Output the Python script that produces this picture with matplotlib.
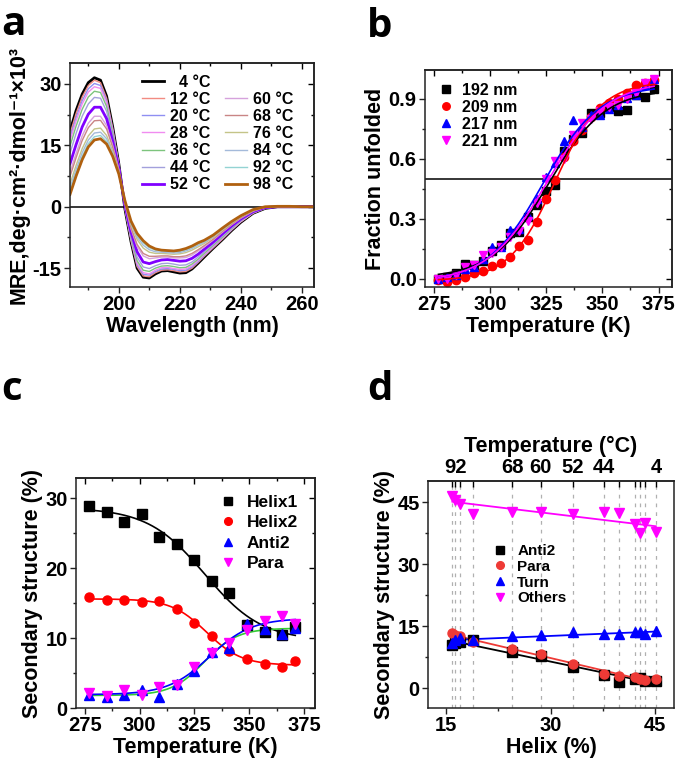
import numpy as np
import matplotlib
matplotlib.use('Agg')
import matplotlib.pyplot as plt
from matplotlib.lines import Line2D
from matplotlib.ticker import MultipleLocator, FixedLocator, NullFormatter

plt.rcParams['font.family'] = ['Liberation Sans', 'DejaVu Sans']
plt.rcParams['font.weight'] = 'bold'
plt.rcParams['axes.labelweight'] = 'bold'
plt.rcParams['axes.linewidth'] = 1.1
plt.rcParams['axes.edgecolor'] = '#222222'
plt.rcParams['axes.unicode_minus'] = False

# ---------------- panel a : CD spectra ----------------
wavelength = [184, 186, 188, 190, 192, 194, 196, 198, 200, 202, 204, 206, 208, 210, 212, 214, 216,
              218, 220, 222, 224, 226, 228, 231, 234, 237, 240, 244, 248, 252, 256, 260, 264]
cd_temps = [4, 12, 20, 28, 36, 44, 52, 60, 68, 76, 84, 92, 98]
mre_4 = [18.5, 23.5, 27.5, 30.3, 31.5, 30.9, 27.0, 19.5, 10.5, -0.5, -8.5, -15.0, -17.2, -17.4, -16.4, -15.7, -15.6,
         -15.9, -16.2, -16.1, -15.2, -13.8, -12.3, -10.1, -8.0, -5.8, -3.8, -1.6, -0.4, 0.0, 0.0, 0.0, 0.0]
mre_12 = [17.8, 22.8, 26.8, 29.6, 30.9, 30.3, 26.5, 19.2, 10.4, -0.4, -8.3, -14.6, -16.9, -17.1, -16.1, -15.5, -15.4,
          -15.6, -15.9, -15.8, -15.0, -13.6, -12.1, -10.0, -7.9, -5.7, -3.7, -1.6, -0.4, 0.0, 0.0, 0.0, 0.0]
mre_20 = [16.9, 21.8, 25.9, 28.8, 30.1, 29.6, 25.9, 18.8, 10.3, -0.3, -8.0, -14.2, -16.5, -16.7, -15.8, -15.2, -15.1,
          -15.3, -15.6, -15.5, -14.7, -13.4, -11.9, -9.8, -7.7, -5.6, -3.6, -1.5, -0.4, 0.0, 0.0, 0.0, 0.0]
mre_28 = [16.1, 21.0, 25.1, 28.0, 29.3, 28.9, 25.4, 18.5, 10.2, -0.2, -7.8, -13.8, -16.1, -16.4, -15.5, -14.9, -14.8,
          -15.1, -15.3, -15.2, -14.4, -13.1, -11.7, -9.7, -7.6, -5.5, -3.6, -1.5, -0.3, 0.0, 0.0, 0.0, 0.0]
mre_36 = [14.8, 19.7, 23.8, 26.8, 28.2, 27.9, 24.5, 17.9, 10.0, 0.0, -7.4, -13.2, -15.5, -15.8, -15.0, -14.5, -14.4,
          -14.6, -14.9, -14.8, -14.0, -12.8, -11.4, -9.4, -7.4, -5.3, -3.4, -1.4, -0.3, 0.0, 0.0, 0.0, 0.0]
mre_44 = [13.1, 17.9, 22.1, 25.1, 26.7, 26.5, 23.3, 17.2, 9.8, 0.2, -7.0, -12.3, -14.7, -15.1, -14.4, -13.9, -13.8,
          -14.0, -14.3, -14.2, -13.5, -12.3, -11.0, -9.1, -7.1, -5.1, -3.3, -1.3, -0.3, 0.0, 0.0, 0.0, 0.0]
mre_52 = [10.5, 15.2, 19.5, 22.6, 24.3, 24.3, 21.5, 16.0, 9.5, 0.5, -6.2, -11.0, -13.5, -13.9, -13.4, -13.0, -12.9,
          -13.1, -13.3, -13.2, -12.6, -11.6, -10.4, -8.6, -6.6, -4.7, -3.0, -1.2, -0.2, 0.0, 0.0, 0.0, 0.0]
mre_60 = [8.4, 13.0, 17.3, 20.4, 22.1, 22.1, 19.8, 15.0, 9.1, 0.8, -5.4, -9.7, -12.0, -12.7, -12.5, -12.3, -12.3,
          -12.5, -12.5, -12.4, -11.8, -10.8, -9.8, -8.1, -6.2, -4.4, -2.8, -1.1, -0.1, 0.0, 0.0, 0.0, 0.0]
mre_68 = [7.4, 12.0, 16.2, 19.3, 21.0, 21.1, 19.0, 14.5, 8.9, 0.9, -5.1, -9.2, -11.4, -12.1, -12.1, -12.0, -12.0,
          -12.2, -12.2, -12.0, -11.4, -10.5, -9.5, -7.9, -6.0, -4.3, -2.7, -1.0, -0.1, 0.0, 0.0, 0.0, 0.0]
mre_76 = [5.6, 10.1, 14.2, 17.3, 19.0, 19.2, 17.4, 13.6, 8.5, 1.2, -4.4, -8.0, -10.1, -11.1, -11.4, -11.4, -11.5,
          -11.6, -11.5, -11.2, -10.6, -9.8, -9.0, -7.5, -5.7, -4.0, -2.5, -0.9, -0.1, 0.1, 0.1, 0.0, 0.0]
mre_84 = [4.6, 9.1, 13.2, 16.3, 18.0, 18.2, 16.6, 13.1, 8.3, 1.3, -4.1, -7.4, -9.4, -10.5, -11.0, -11.1, -11.2,
          -11.3, -11.2, -10.8, -10.2, -9.4, -8.7, -7.3, -5.5, -3.8, -2.4, -0.8, 0.0, 0.1, 0.1, 0.0, 0.0]
mre_92 = [3.8, 8.3, 12.3, 15.4, 17.1, 17.4, 15.9, 12.7, 8.2, 1.4, -3.8, -7.0, -8.8, -10.0, -10.6, -10.8, -10.9,
          -11.0, -10.9, -10.5, -9.9, -9.1, -8.4, -7.1, -5.3, -3.7, -2.3, -0.8, 0.0, 0.1, 0.1, 0.0, 0.0]
mre_98 = [3.0, 7.5, 11.5, 14.6, 16.3, 16.6, 15.3, 12.3, 8.0, 1.5, -3.5, -6.5, -8.3, -9.6, -10.3, -10.6, -10.7,
          -10.8, -10.6, -10.2, -9.6, -8.8, -8.2, -6.9, -5.2, -3.6, -2.2, -0.7, 0.0, 0.1, 0.1, 0.0, 0.0]
mre_all = [mre_4, mre_12, mre_20, mre_28, mre_36, mre_44, mre_52, mre_60, mre_68, mre_76, mre_84, mre_92, mre_98]

# ---------------- panel b : fraction unfolded ----------------
temp_b = [277, 281, 285, 289, 293, 297, 301, 305, 309, 313, 317, 321, 325,
          329, 333, 337, 341, 345, 349, 353, 357, 361, 365, 369, 373]
frac_192 = [0.0, 0.01, 0.03, 0.075, 0.07, 0.09, 0.14, 0.17, 0.23, 0.235, 0.31, 0.37, 0.44,
            0.47, 0.64, 0.70, 0.73, 0.83, 0.83, 0.86, 0.84, 0.845, 0.92, 0.91, 0.95]
frac_209 = [-0.005, -0.013, -0.005, 0.012, 0.032, 0.042, 0.065, 0.082, 0.112, 0.167, 0.195, 0.287, 0.40,
            0.495, 0.61, 0.69, 0.745, 0.81, 0.857, 0.878, 0.90, 0.93, 0.97, 0.98, 0.995]
frac_217 = [0.0, 0.01, 0.02, 0.05, 0.06, 0.10, 0.16, 0.16, 0.245, 0.25, 0.32, 0.40, 0.51,
            0.58, 0.69, 0.795, 0.76, 0.82, 0.82, 0.85, 0.87, 0.905, 0.92, 0.97, 1.0]
frac_221 = [0.0, 0.0, 0.02, 0.06, 0.07, 0.12, 0.13, 0.16, 0.21, 0.24, 0.29, 0.38, 0.50,
            0.59, 0.60, 0.72, 0.78, 0.80, 0.84, 0.86, 0.87, 0.90, 0.93, 0.98, 1.0]
b_labels = ['192 nm', '209 nm', '217 nm', '221 nm']

# ---------------- panel c : secondary structure vs T ----------------
temp_c = [277, 285, 293, 301, 309, 317, 325, 333, 341, 349, 357, 365, 371]
helix1 = [28.9, 28.1, 26.6, 27.8, 24.4, 23.4, 21.1, 18.1, 16.4, 11.9, 10.9, 10.5, 11.6]
helix2 = [15.9, 15.4, 15.4, 15.1, 15.3, 14.2, 12.2, 10.3, 8.1, 7.0, 6.3, 5.8, 6.7]
anti2_c = [1.9, 1.6, 1.9, 2.6, 1.6, 3.5, 5.3, 8.0, 8.6, 12.0, 11.3, 10.6, 11.5]
para_c = [2.1, 1.7, 2.6, 1.9, 3.0, 3.3, 5.8, 7.9, 9.3, 11.1, 12.4, 13.2, 12.0]

# ---------------- panel d : secondary structure vs helix ----------------
temp_d = [98, 92, 84, 76, 68, 60, 52, 44, 36, 28, 20, 12, 4]
temp_d_shown = [92, 68, 60, 52, 44, 4]
helix_d = [15.9, 16.3, 17.0, 18.9, 24.5, 28.6, 33.2, 37.7, 39.8, 42.1, 42.8, 43.6, 45.1]
anti2_d = [10.4, 10.8, 11.1, 11.6, 8.7, 7.7, 5.1, 3.1, 1.5, 2.2, 2.4, 1.7, 1.7]
para_d = [13.3, 12.9, 12.6, 11.1, 9.4, 8.2, 5.8, 3.4, 2.9, 2.6, 2.2, 1.9, 2.2]
turn_d = [11.0, 11.6, 12.1, 11.6, 12.6, 12.8, 13.5, 13.1, 13.1, 13.5, 13.5, 13.1, 13.8]
others_d = [46.5, 45.6, 44.5, 42.1, 42.6, 42.6, 42.1, 42.6, 42.3, 39.7, 37.5, 39.9, 37.7]


def boltzmann_fit(x, y, xs):
    # least squares Boltzmann fit (grid over x0/dx, linear in A1/A2)
    x = np.asarray(x, float)
    y = np.asarray(y, float)
    x0g, dxg = np.meshgrid(np.arange(300, 350.01, 0.25), np.arange(2, 25.01, 0.25))
    x0g = x0g.ravel()[:, None]
    dxg = dxg.ravel()[:, None]
    s = 1.0 / (1.0 + np.exp((x[None, :] - x0g) / dxg))
    sm = s.mean(1, keepdims=True)
    ym = y.mean()
    b = ((s - sm) * (y - ym)).sum(1, keepdims=True) / ((s - sm) ** 2).sum(1, keepdims=True)
    a = ym - b * sm
    i = np.argmin(((y - a - b * s) ** 2).sum(1))
    return a[i, 0] + b[i, 0] / (1.0 + np.exp((xs - x0g[i, 0]) / dxg[i, 0]))


def style_axes(ax, xmaj, xmin, ymaj, ymin, mirror=True):
    ax.xaxis.set_major_locator(MultipleLocator(xmaj))
    ax.xaxis.set_minor_locator(MultipleLocator(xmin))
    ax.yaxis.set_major_locator(MultipleLocator(ymaj))
    ax.yaxis.set_minor_locator(MultipleLocator(ymin))
    ax.tick_params(which='both', direction='out', width=1.0, labelsize=14.5, pad=2, colors='#222222')
    ax.tick_params(which='major', length=4)
    ax.tick_params(which='minor', length=2.5)
    for lab in ax.get_xticklabels() + ax.get_yticklabels():
        lab.set_fontweight('bold')
        lab.set_color('black')
    if mirror:
        top = ax.secondary_xaxis('top')
        top.xaxis.set_major_locator(MultipleLocator(xmaj))
        top.xaxis.set_minor_locator(MultipleLocator(xmin))
        top.xaxis.set_major_formatter(NullFormatter())
        top.tick_params(which='both', direction='in', width=1.0)
        top.tick_params(which='major', length=4)
        top.tick_params(which='minor', length=2.5)
        right = ax.secondary_yaxis('right')
        right.yaxis.set_major_locator(MultipleLocator(ymaj))
        right.yaxis.set_minor_locator(MultipleLocator(ymin))
        right.yaxis.set_major_formatter(NullFormatter())
        right.tick_params(which='both', direction='in', width=1.0)
        right.tick_params(which='major', length=4)
        right.tick_params(which='minor', length=2.5)


fig = plt.figure(figsize=(6.85, 7.71), dpi=100)
W, H = 685.0, 771.0


def add_axes(x0, y0, x1, y1):
    return fig.add_axes([x0 / W, 1 - y1 / H, (x1 - x0) / W, (y1 - y0) / H])


label_fs = 15.5

# ---- a ----
ax = add_axes(70, 63, 314, 287)
cd_colors = ['#000000', '#f28b82', '#8f8ff2', '#f08cf0', '#7dc47d', '#a3a0dc', '#8000ff',
             '#d6a2dc', '#c98585', '#c4c488', '#a4bada', '#93d3d3', '#b0600f']
cd_widths = [2.0, 1.0, 1.0, 1.0, 1.0, 1.0, 2.0, 1.0, 1.0, 1.0, 1.0, 1.0, 2.0]
ax.axhline(0, color='black', lw=1.1)
handles = []
for t, mre, c, lw in zip(cd_temps, mre_all, cd_colors, cd_widths):
    ln, = ax.plot(wavelength, mre, color=c, lw=lw)
    handles.append(ln)
ax.set_xlim(184, 264)
ax.set_ylim(-19.6, 35.1)
style_axes(ax, 20, 10, 15, 7.5)
ax.set_xlabel('Wavelength (nm)', fontsize=label_fs, labelpad=1)
ax.set_ylabel('MRE,deg·cm²·dmol⁻¹×10³', fontsize=label_fs, labelpad=2)
labels = [('  %d °C' % t) if t < 10 else ('%d °C' % t) for t in cd_temps]
dummy = Line2D([], [], color='none')
leg_h = handles[:7] + [dummy] + handles[7:]
leg_l = labels[:7] + [''] + labels[7:]
ax.legend(leg_h, leg_l, ncol=2, loc='upper left', bbox_to_anchor=(0.255, 0.99), frameon=False,
          fontsize=11.5, handlelength=1.4, handletextpad=0.35, labelspacing=0.13, columnspacing=0.9,
          borderpad=0.1)

# ---- b ----
ax = add_axes(425, 70, 672, 287)
b_series = [frac_192, frac_209, frac_217, frac_221]
b_colors = ['#000000', '#ff0000', '#0000ff', '#ff00ff']
b_markers = ['s', 'o', '^', 'v']
ts = np.linspace(min(temp_b), max(temp_b), 300)
ax.axhline(0.5, color='black', lw=1.1)
for ys, c, m, lab in zip(b_series, b_colors, b_markers, b_labels):
    ax.plot(temp_b, ys, m, color=c, ms=6, mec=c, lw=0, label=lab)
for ys, c in zip(b_series, b_colors):
    ax.plot(ts, boltzmann_fit(temp_b, ys, ts), color=c, lw=1.2)
ax.set_xlim(271, 381)
ax.set_ylim(-0.04, 1.045)
style_axes(ax, 25, 12.5, 0.3, 0.15)
ax.yaxis.set_major_formatter(matplotlib.ticker.FormatStrFormatter('%.1f'))
ax.set_xlabel('Temperature (K)', fontsize=label_fs, labelpad=1)
ax.set_ylabel('Fraction unfolded', fontsize=label_fs, labelpad=2)
ax.legend(loc='upper left', bbox_to_anchor=(0.0, 1.0), frameon=False, fontsize=11.5,
          handlelength=1.0, handletextpad=0.5, labelspacing=0.12, borderpad=0.3, markerscale=0.9)

# ---- c ----
ax = add_axes(76, 478, 315, 708)
tc = np.linspace(min(temp_c), max(temp_c), 300)
c_series = [helix1, helix2, anti2_c, para_c]
c_labels = ['Helix1', 'Helix2', 'Anti2', 'Para']
c_colors = ['#000000', '#ff0000', '#0000ff', '#ff00ff']
c_fit_colors = ['#000000', '#ff0000', '#33cc33', '#0000ff']
for ys, c, m, lab in zip(c_series, c_colors, b_markers, c_labels):
    ax.plot(temp_c, ys, m, color=c, mec=c, ms=6.5, lw=0, label=lab, zorder=3)
for ys, c in zip(c_series, c_fit_colors):
    ax.plot(tc, boltzmann_fit(temp_c, ys, tc), color=c, lw=1.2, zorder=2)
ax.set_xlim(271, 380)
ax.set_ylim(0, 32.9)
style_axes(ax, 25, 12.5, 10, 5)
ax.set_xlabel('Temperature (K)', fontsize=label_fs, labelpad=1)
ax.set_ylabel('Secondary structure (%)', fontsize=label_fs, labelpad=2)
ax.legend(loc='upper right', bbox_to_anchor=(0.98, 0.98), frameon=False, fontsize=12.5,
          handlelength=1.0, handletextpad=0.6, labelspacing=0.3, borderpad=0.2, markerscale=0.85)

# ---- d ----
ax = add_axes(428, 481, 674, 708)
for h in helix_d:
    ax.axvline(h, color='#b0b0b0', lw=0.9, ls=(0, (3, 4)), zorder=0)
d_series = [anti2_d, para_d, turn_d, others_d]
d_labels = ['Anti2', 'Para', 'Turn', 'Others']
d_colors = ['#000000', '#ee3a36', '#0000ff', '#ff00ff']
hx = np.array([min(helix_d), max(helix_d)])
for ys, c, m, lab in zip(d_series, d_colors, b_markers, d_labels):
    ax.plot(helix_d, ys, m, color=c, mec=c, ms=6.5, lw=0, label=lab, zorder=3)
for ys, c in zip(d_series, d_colors):
    k, b0 = np.polyfit(helix_d, ys, 1)
    ax.plot(hx, k * hx + b0, color=c, lw=1.3, zorder=2)
ax.set_xlim(12.4, 47.7)
ax.set_ylim(-4.8, 50.1)
style_axes(ax, 15, 7.5, 15, 7.5, mirror=False)
ax.set_xlabel('Helix (%)', fontsize=label_fs, labelpad=1)
ax.set_ylabel('Secondary structure (%)', fontsize=label_fs, labelpad=2)
top = ax.secondary_xaxis('top')
top.xaxis.set_major_locator(FixedLocator(helix_d))
top.set_xticklabels([str(t) if t in temp_d_shown else '' for t in temp_d], fontsize=14.5,
                    fontweight='bold')
top.tick_params(direction='in', length=4, width=1.0, pad=3)
top.set_xlabel('Temperature (°C)', fontsize=label_fs, fontweight='bold', labelpad=4)
ax.legend(loc='upper left', bbox_to_anchor=(0.22, 0.77), frameon=False, fontsize=11,
          handlelength=1.0, handletextpad=0.6, labelspacing=0.12, borderpad=0.2, markerscale=0.85)

# panel letters
for letter, x, y in [('a', 1, 35), ('b', 367, 37), ('c', 1, 400), ('d', 367, 400)]:
    fig.text(x / W, 1 - y / H, letter, fontsize=29, fontweight='bold', family='Open Sans',
             ha='left', va='baseline')

fig.savefig('out.png', dpi=100)
